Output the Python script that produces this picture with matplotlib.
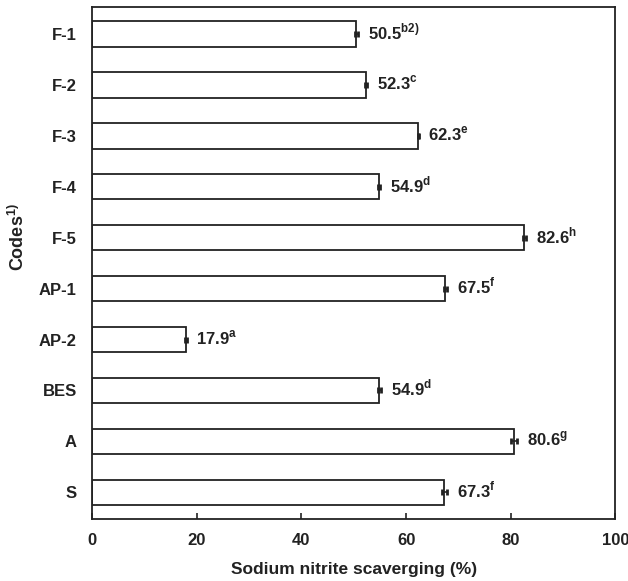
import numpy as np
import matplotlib
matplotlib.use("Agg")
import matplotlib.pyplot as plt

plt.rcParams['font.family'] = ['Liberation Sans', 'DejaVu Sans']
plt.rcParams['font.weight'] = 'bold'
plt.rcParams['mathtext.fontset'] = 'custom'
plt.rcParams['mathtext.rm'] = 'Liberation Sans:bold'
plt.rcParams['mathtext.bf'] = 'Liberation Sans:bold'

codes = ["F-1", "F-2", "F-3", "F-4", "F-5", "AP-1", "AP-2", "BES", "A", "S"]
values = [50.5, 52.3, 62.3, 54.9, 82.6, 67.5, 17.9, 54.9, 80.6, 67.3]
errors = [0.3, 0.2, 0.1, 0.2, 0.3, 0.3, 0.2, 0.3, 0.6, 0.5]
letters = ["b2)", "c", "e", "d", "h", "f", "a", "d", "g", "f"]

ink = "#222222"

fig, ax = plt.subplots(figsize=(6.28, 5.81), dpi=100)
fig.subplots_adjust(left=0.1465, right=0.98, top=0.988, bottom=0.107)

y = np.arange(len(codes))
ax.barh(y, values, height=0.5, color="white", edgecolor=ink, linewidth=1.3,
        xerr=errors, error_kw=dict(ecolor=ink, elinewidth=1.2, capsize=2, capthick=2))

# value + significance letter
for yi, v, e, s in zip(y, values, errors, letters):
    ax.annotate(f"{v:.1f}" + r"$^{\mathbf{" + s + "}}$", xy=(v + e, yi),
                xytext=(7, 1.5), textcoords="offset points", va="center", ha="left",
                fontsize=12, fontweight="bold", color=ink)

ax.set_xlim(0, 100)
ax.set_ylim(9.52, -0.53)
ax.set_yticks(y)
ax.set_yticklabels(codes)
ax.set_xticks([0, 20, 40, 60, 80, 100])

ax.tick_params(axis="y", length=0, pad=11, labelsize=12, labelcolor=ink)
ax.tick_params(axis="x", direction="in", length=4, width=1.2, pad=10, labelsize=12,
               labelcolor=ink, color=ink)
for sp in ax.spines.values():
    sp.set_linewidth(1.3)
    sp.set_color(ink)

ax.set_xlabel("Sodium nitrite scaverging (%)", fontsize=12.5, fontweight="bold",
              color=ink, labelpad=10)
ax.set_ylabel(r"Codes$^{\mathbf{1)}}$", fontsize=13, fontweight="bold", color=ink)
ax.yaxis.set_label_coords(-0.123, 0.55)

plt.savefig("out.png", dpi=100)
